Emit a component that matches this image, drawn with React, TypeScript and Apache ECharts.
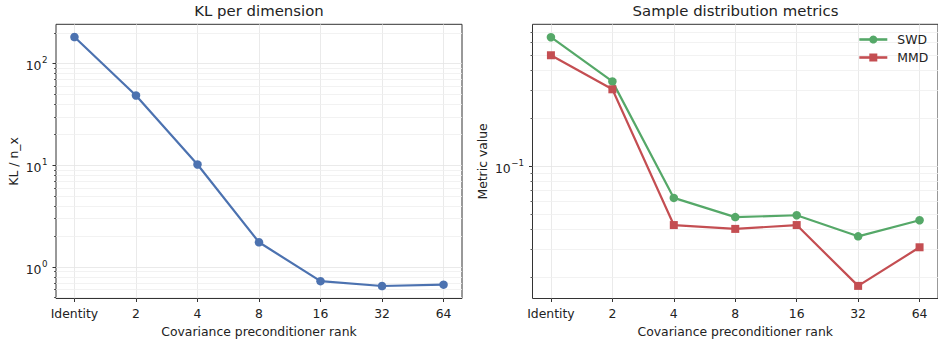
import React, { useEffect, useRef } from 'react';
import * as echarts from 'echarts';

const categories = ['Identity', '2', '4', '8', '16', '32', '64'];
const klPerDim = [183, 48.7, 10.2, 1.75, 0.726, 0.65, 0.67];
const swd = [0.647, 0.341, 0.063, 0.0477, 0.049, 0.0361, 0.0456];
const mmd = [0.498, 0.304, 0.0425, 0.0402, 0.0425, 0.0176, 0.0308];

const klRange = [0.49, 244];
const klMajorExp = [0, 1, 2];
const klMinorVals = [0.5, 0.6, 0.7, 0.8, 0.9, 2, 3, 4, 5, 6, 7, 8, 9, 20, 30, 40, 50, 60, 70, 80, 90, 200];
const metricRange = [0.01466, 0.78];
const metricMajorExp = [-1];
const metricMinorVals = [0.02, 0.03, 0.04, 0.05, 0.06, 0.07, 0.08, 0.09, 0.2, 0.3, 0.4, 0.5, 0.6, 0.7];
const xTicks = [0, 1, 2, 3, 4, 5, 6];

const FONT = 'DejaVu Sans';
const TXT = '#222';
const SPINE = '#333';
const MAJOR_GRID = '#e4e4e4';
const MINOR_GRID = '#efefef';
const BLUE = '#4c72b0';
const GREEN = '#55a868';
const RED = '#c44e52';

const fmtExp = (v: number) => {
  const e = Math.round(v);
  return e < 0 ? '\u2212' + Math.abs(e) : String(e);
};

const rich = {
  b: { fontSize: 12.4, fontFamily: FONT, color: TXT, lineHeight: 16, verticalAlign: 'bottom' },
  s: { fontSize: 8.7, fontFamily: FONT, color: TXT, lineHeight: 16, verticalAlign: 'top', padding: [0, 0, 0, 0.5] },
};

function makeX(gridIndex: number) {
  return {
    type: 'value',
    gridIndex,
    position: 'bottom',
    min: -0.3,
    max: 6.3,
    axisLine: { show: false, onZero: false },
    axisTick: { show: true, customValues: xTicks, length: 3.5, lineStyle: { color: SPINE, width: 1 } },
    axisLabel: {
      customValues: xTicks,
      formatter: (v: number) => categories[Math.round(v)] ?? '',
      margin: 8.5,
      fontSize: 12.4,
      fontFamily: FONT,
      color: TXT,
    },
    splitLine: { show: true, lineStyle: { color: MAJOR_GRID, width: 0.8 } },
    name: 'Covariance preconditioner rank',
    nameLocation: 'middle',
    nameGap: 26.5,
    nameTextStyle: { fontSize: 12.4, fontFamily: FONT, color: TXT },
  };
}

function makeYMajor(gridIndex: number, range: number[], exps: number[], name: string, nameGap: number) {
  return {
    type: 'value',
    gridIndex,
    position: 'left',
    min: Math.log10(range[0]),
    max: Math.log10(range[1]),
    axisLine: { show: false, onZero: false },
    axisTick: { show: true, customValues: exps, length: 3.5, lineStyle: { color: SPINE, width: 1 } },
    axisLabel: {
      customValues: exps,
      formatter: (v: number) => `{b|10}{s|${fmtExp(v)}}`,
      rich,
      margin: 8.5,
    },
    splitLine: { show: true, lineStyle: { color: MAJOR_GRID, width: 0.8 } },
    name,
    nameLocation: 'middle',
    nameRotate: 90,
    nameGap,
    nameTextStyle: { fontSize: 12.4, fontFamily: FONT, color: TXT },
    z: 3,
  };
}

function makeYMinor(gridIndex: number, range: number[], vals: number[]) {
  const lv = vals.map((v) => Math.log10(v));
  return {
    type: 'value',
    gridIndex,
    position: 'left',
    offset: 0,
    min: Math.log10(range[0]),
    max: Math.log10(range[1]),
    axisLine: { show: false, onZero: false },
    axisTick: { show: true, customValues: lv, length: 2, lineStyle: { color: SPINE, width: 0.8 } },
    axisLabel: { show: false },
    splitLine: { show: true, lineStyle: { color: MINOR_GRID, width: 0.8 } },
    z: 1,
  };
}

export default function App() {
  const ref = useRef<HTMLDivElement>(null);
  useEffect(() => {
    if (!ref.current) return;
    const chart = echarts.init(ref.current, undefined, { renderer: 'svg' });
    const titleStyle = { fontSize: 14.9, fontFamily: FONT, color: TXT, fontWeight: 'normal' as const };
    chart.setOption({
      animation: false,
      backgroundColor: '#ffffff',
      textStyle: { fontFamily: FONT },
      title: [
        { text: 'KL per dimension', left: 259, top: 3, textAlign: 'center', padding: 0, textStyle: titleStyle },
        { text: 'Sample distribution metrics', left: 735.5, top: 3, textAlign: 'center', padding: 0, textStyle: titleStyle },
      ],
      grid: [
        { left: 56, top: 24.3, width: 406, height: 278.7, show: true, borderColor: SPINE, borderWidth: 1, backgroundColor: 'transparent' },
        { left: 532.5, top: 24.3, width: 406, height: 278.7, show: true, borderColor: SPINE, borderWidth: 1, backgroundColor: 'transparent' },
      ],
      legend: {
        data: ['SWD', 'MMD'],
        orient: 'vertical',
        left: 858,
        top: 33.5,
        padding: 0,
        itemWidth: 28,
        itemHeight: 10,
        itemGap: 6,
        lineStyle: { width: 2.6 },
        textStyle: { fontSize: 12.4, fontFamily: FONT, color: TXT, padding: [0, 0, 0, 5] },
      },
      xAxis: [makeX(0), makeX(1)],
      yAxis: [
        makeYMajor(0, klRange, klMajorExp, 'KL / n_x', 37),
        makeYMinor(0, klRange, klMinorVals),
        makeYMajor(1, metricRange, metricMajorExp, 'Metric value', 44),
        makeYMinor(1, metricRange, metricMinorVals),
      ],
      series: [
        {
          name: 'KL / n_x',
          type: 'line',
          xAxisIndex: 0,
          yAxisIndex: 0,
          data: klPerDim.map((v, i) => [i, Math.log10(v)]),
          symbol: 'circle',
          symbolSize: 8.5,
          lineStyle: { width: 2.2, color: BLUE },
          itemStyle: { color: BLUE },
        },
        {
          name: 'SWD',
          type: 'line',
          xAxisIndex: 1,
          yAxisIndex: 2,
          data: swd.map((v, i) => [i, Math.log10(v)]),
          symbol: 'circle',
          symbolSize: 8.5,
          lineStyle: { width: 2.2, color: GREEN },
          itemStyle: { color: GREEN },
        },
        {
          name: 'MMD',
          type: 'line',
          xAxisIndex: 1,
          yAxisIndex: 2,
          data: mmd.map((v, i) => [i, Math.log10(v)]),
          symbol: 'rect',
          symbolSize: 8,
          lineStyle: { width: 2.2, color: RED },
          itemStyle: { color: RED },
        },
      ],
    });
    return () => chart.dispose();
  }, []);
  return <div ref={ref} style={{ position: 'absolute', left: 0, top: 0, width: 938, height: 342 }} />;
}
